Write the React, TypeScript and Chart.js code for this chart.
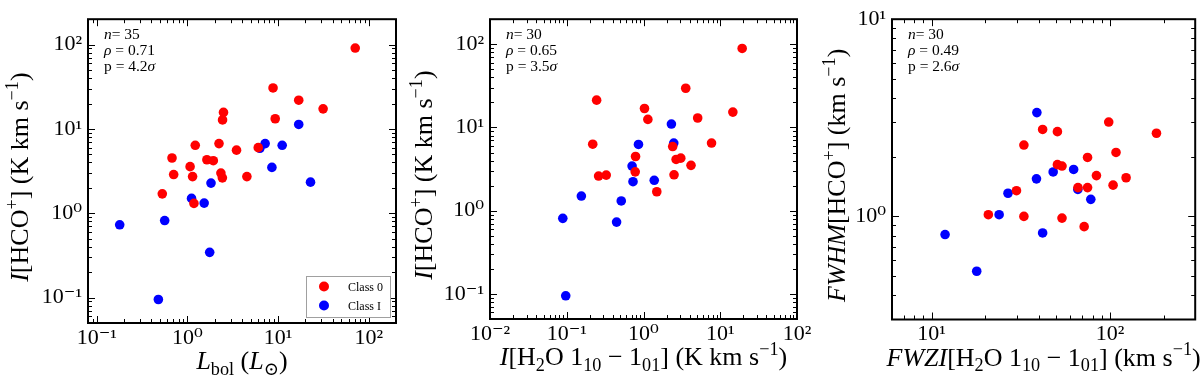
import React, { useEffect, useRef } from 'react';
import { Chart, registerables } from 'chart.js';

Chart.register(...registerables);

const SERIF = '"Liberation Serif", "DejaVu Serif", "Times New Roman", serif';
const RED = '#ff0000';
const BLUE = '#0000ff';

// ---------------- data ----------------
// Panel 1: L_bol vs I[HCO+]
const lbolClass0 = [71, 8.8, 16.9, 31.4, 9.3, 2.5, 2.44, 1.22, 2.23, 3.48, 6.04, 0.676, 1.64, 1.93, 1.07, 0.705, 1.14, 2.34, 2.43, 4.53, 0.528, 1.18];
const hcoLbolClass0 = [91, 30.6, 21.9, 17.3, 13.2, 15.7, 12.8, 6.4, 6.7, 5.6, 6.0, 4.52, 4.31, 4.2, 3.57, 2.88, 2.72, 3.0, 2.63, 2.72, 1.7, 1.31];
const lbolClassI = [16.9, 7.2, 11.1, 6.3, 8.55, 22.8, 1.82, 1.11, 1.53, 0.561, 0.179, 1.76, 0.478];
const hcoLbolClassI = [11.3, 6.7, 6.4, 5.9, 3.5, 2.34, 2.28, 1.5, 1.32, 0.82, 0.73, 0.344, 0.095];

// Panel 2: I[H2O] vs I[HCO+]
const iwaterClass0 = [19.3, 3.55, 0.245, 1.03, 14.6, 1.14, 5.08, 0.218, 7.7, 2.4, 0.788, 2.66, 3.06, 4.16, 0.78, 0.26, 0.327, 2.5, 1.49];
const hcoWaterClass0 = [89, 29.6, 21.3, 16.9, 15.3, 12.5, 13.0, 6.3, 6.5, 5.9, 4.48, 4.13, 4.28, 3.51, 2.93, 2.61, 2.68, 2.7, 1.69];
const iwaterClassI = [2.31, 2.48, 0.86, 0.71, 0.73, 1.38, 0.155, 0.513, 0.0888, 0.446, 0.097];
const hcoWaterClassI = [11.0, 6.5, 6.25, 3.44, 2.23, 2.32, 1.5, 1.31, 0.81, 0.73, 0.095];

// Panel 3: FWZI[H2O] vs FWHM[HCO+]
const fwziClass0 = [98.3, 182, 41.9, 50.7, 32.9, 108, 74.8, 50.7, 53.8, 83.9, 123, 66.1, 74.8, 104, 29.9, 20.8, 32.9, 53.8, 71.6];
const fwhmClass0 = [3.01, 2.64, 2.76, 2.69, 2.3, 2.11, 1.99, 1.83, 1.8, 1.61, 1.57, 1.4, 1.4, 1.44, 1.35, 1.02, 1.0, 0.98, 0.887];
const fwziClassI = [38.9, 62.5, 48.0, 38.7, 66, 26.8, 78, 23.9, 41.9, 11.9, 17.9];
const fwhmClassI = [3.36, 1.73, 1.68, 1.55, 1.37, 1.31, 1.22, 1.02, 0.824, 0.809, 0.527];

const seriesLabels = ['Class 0', 'Class I'];
const statsP1 = ['35', '0.71', '4.2'];
const statsP2 = ['30', '0.65', '3.5'];
const statsP3 = ['30', '0.49', '2.6'];

// ---------------- helpers ----------------
type Seg = { t: string; i?: boolean; s?: 'sub' | 'sup' };

interface Panel {
  x0: number[]; y0: number[]; x1: number[]; y1: number[];
  xMin: number; xMax: number; yMin: number; yMax: number;
  area: { left: number; right: number; top: number; bottom: number };
  xTitle: Seg[]; yTitle: Seg[]; yTitleOffset: number;
  stats: string[];
  legend: boolean;
}

const SUP: Record<string, string> = { '-': '⁻', '0': '⁰', '1': '¹', '2': '²', '3': '³', '4': '⁴', '5': '⁵', '6': '⁶', '7': '⁷', '8': '⁸', '9': '⁹' };

function isDecade(v: number) {
  const l = Math.log10(v);
  return Math.abs(l - Math.round(l)) < 1e-6;
}
function decadeLabel(v: number) {
  const e = String(Math.round(Math.log10(v)));
  return '10' + e.split('').map((c) => SUP[c]).join('');
}
function logTicks(min: number, max: number) {
  const out: number[] = [];
  for (let e = Math.floor(Math.log10(min)) - 1; e <= Math.ceil(Math.log10(max)); e++) {
    for (let k = 1; k <= 9; k++) {
      const v = k * Math.pow(10, e);
      if (v >= min * 0.9999 && v <= max * 1.0001) out.push(v);
    }
  }
  return out;
}

function drawRich(ctx: CanvasRenderingContext2D, segs: Seg[], x: number, y: number, size: number, align: 'center' | 'left') {
  const parts = segs.map((sg) => {
    const fs = sg.s ? size * 0.7 : size;
    const font = `${sg.i ? 'italic ' : ''}${fs}px ${SERIF}`;
    ctx.font = font;
    return { sg, font, w: ctx.measureText(sg.t).width };
  });
  const total = parts.reduce((s, p) => s + p.w, 0);
  let cx = align === 'center' ? x - total / 2 : x;
  ctx.textAlign = 'left';
  ctx.textBaseline = 'alphabetic';
  for (const p of parts) {
    ctx.font = p.font;
    const dy = p.sg.s === 'sup' ? -size * 0.4 : p.sg.s === 'sub' ? size * 0.22 : 0;
    ctx.fillText(p.sg.t, cx, y + dy);
    cx += p.w;
  }
}

const TITLE_SIZE = 26;
const STATS_SIZE = 15.5;

function decoPlugin(panel: Panel) {
  return {
    id: 'deco',
    afterDraw(chart: any) {
      const { ctx, chartArea: a, scales } = chart;
      const xs = scales.x;
      const ys = scales.y;
      ctx.save();
      ctx.strokeStyle = '#000';
      ctx.lineWidth = 1;
      ctx.beginPath();
      for (const t of xs.ticks) {
        const px = Math.round(xs.getPixelForValue(t.value)) + 0.5;
        const L = isDecade(t.value) ? 7 : 4;
        ctx.moveTo(px, a.bottom);
        ctx.lineTo(px, a.bottom - L);
        ctx.moveTo(px, a.top);
        ctx.lineTo(px, a.top + L);
      }
      for (const t of ys.ticks) {
        const py = Math.round(ys.getPixelForValue(t.value)) + 0.5;
        const L = isDecade(t.value) ? 7 : 4;
        ctx.moveTo(a.left, py);
        ctx.lineTo(a.left + L, py);
        ctx.moveTo(a.right, py);
        ctx.lineTo(a.right - L, py);
      }
      ctx.stroke();
      ctx.lineWidth = 2;
      ctx.strokeRect(a.left, a.top, a.right - a.left, a.bottom - a.top);

      ctx.fillStyle = '#000';
      // axis titles
      drawRich(ctx, panel.xTitle, (a.left + a.right) / 2, a.bottom + 46, TITLE_SIZE, 'center');
      ctx.save();
      ctx.translate(a.left + panel.yTitleOffset, (a.top + a.bottom) / 2 + 6);
      ctx.rotate(-Math.PI / 2);
      drawRich(ctx, panel.yTitle, 0, 0, TITLE_SIZE, 'center');
      ctx.restore();

      // statistics
      const [n, rho, p] = panel.stats;
      const sx = a.left + 16;
      drawRich(ctx, [{ t: 'n', i: true }, { t: '= ' + n }], sx, a.top + 19.5, STATS_SIZE, 'left');
      drawRich(ctx, [{ t: 'ρ', i: true }, { t: ' = ' + rho }], sx, a.top + 35.5, STATS_SIZE, 'left');
      drawRich(ctx, [{ t: 'p = ' + p }, { t: 'σ', i: true }], sx, a.top + 51.5, STATS_SIZE, 'left');

      // legend
      if (panel.legend) {
        const bw = 84, bh = 41;
        const bx = a.right - 6 - bw;
        const by = a.bottom - 6 - bh;
        ctx.fillStyle = '#fff';
        ctx.fillRect(bx, by, bw, bh);
        ctx.strokeStyle = '#a0a0a0';
        ctx.lineWidth = 1;
        ctx.strokeRect(bx + 0.5, by + 0.5, bw, bh);
        const cols = [RED, BLUE];
        for (let k = 0; k < 2; k++) {
          const cy = by + 10.5 + k * 19;
          ctx.fillStyle = cols[k];
          ctx.beginPath();
          ctx.arc(bx + 18, cy, 5, 0, Math.PI * 2);
          ctx.fill();
          ctx.fillStyle = '#000';
          ctx.font = `12px ${SERIF}`;
          ctx.textAlign = 'left';
          ctx.textBaseline = 'alphabetic';
          ctx.fillText(seriesLabels[k], bx + 42, cy + 4);
        }
      }
      ctx.restore();
    },
  };
}

const W = 1200;
const H = 378;
const XAXIS_H = 40;
const YAXIS_W = 70;

function PanelChart({ panel }: { panel: Panel }) {
  const ref = useRef<HTMLCanvasElement>(null);
  useEffect(() => {
    const canvas = ref.current;
    if (!canvas) return;
    const a = panel.area;
    const tickFont = { family: SERIF, size: 22 };
    const mkPts = (xs: number[], ys: number[]) => xs.map((x, i) => ({ x, y: ys[i] }));
    const chart = new Chart(canvas, {
      type: 'scatter',
      data: {
        datasets: [
          { label: seriesLabels[0], data: mkPts(panel.x0, panel.y0), pointBackgroundColor: RED, pointBorderColor: RED, pointBorderWidth: 0, pointRadius: 4.8, pointHoverRadius: 4.8 },
          { label: seriesLabels[1], data: mkPts(panel.x1, panel.y1), pointBackgroundColor: BLUE, pointBorderColor: BLUE, pointBorderWidth: 0, pointRadius: 4.8, pointHoverRadius: 4.8 },
        ],
      },
      options: {
        responsive: false,
        animation: false,
        devicePixelRatio: 1,
        events: [],
        layout: { padding: { left: a.left - YAXIS_W, right: W - a.right, top: a.top, bottom: H - a.bottom - XAXIS_H } },
        plugins: { legend: { display: false }, tooltip: { enabled: false } },
        scales: {
          x: {
            type: 'logarithmic',
            position: 'bottom',
            min: panel.xMin,
            max: panel.xMax,
            grid: { display: false, drawTicks: false },
            border: { display: false },
            ticks: { font: tickFont, color: '#000', padding: 2, autoSkip: false, maxRotation: 0, minRotation: 0, callback: (v: any) => (isDecade(Number(v)) ? decadeLabel(Number(v)) : '') },
            afterBuildTicks: (s: any) => { s.ticks = logTicks(panel.xMin, panel.xMax).map((v) => ({ value: v })); },
            afterFit: (s: any) => { s.height = XAXIS_H; },
          },
          y: {
            type: 'logarithmic',
            position: 'left',
            min: panel.yMin,
            max: panel.yMax,
            grid: { display: false, drawTicks: false },
            border: { display: false },
            ticks: { font: tickFont, color: '#000', padding: 6, autoSkip: false, callback: (v: any) => (isDecade(Number(v)) ? decadeLabel(Number(v)) : '') },
            afterBuildTicks: (s: any) => { s.ticks = logTicks(panel.yMin, panel.yMax).map((v) => ({ value: v })); },
            afterFit: (s: any) => { s.width = YAXIS_W; },
          },
        },
      } as any,
      plugins: [decoPlugin(panel)],
    });
    return () => chart.destroy();
  }, [panel]);
  return <canvas ref={ref} width={W} height={H} style={{ position: 'absolute', left: 0, top: 0, width: W, height: H }} />;
}

const hcoTitle: Seg[] = [{ t: 'I', i: true }, { t: '[HCO' }, { t: '+', s: 'sup' }, { t: '] (K km s' }, { t: '−1', s: 'sup' }, { t: ')' }];

const panels: Panel[] = [
  {
    x0: lbolClass0, y0: hcoLbolClass0, x1: lbolClassI, y1: hcoLbolClassI,
    xMin: 0.08, xMax: 200, yMin: 0.05, yMax: 200,
    area: { left: 88, right: 396, top: 19, bottom: 323 },
    xTitle: [{ t: 'L', i: true }, { t: 'bol', s: 'sub' }, { t: ' (' }, { t: 'L', i: true }, { t: '⊙', s: 'sub' }, { t: ')' }],
    yTitle: hcoTitle, yTitleOffset: -60,
    stats: statsP1, legend: true,
  },
  {
    x0: iwaterClass0, y0: hcoWaterClass0, x1: iwaterClassI, y1: hcoWaterClassI,
    xMin: 0.01, xMax: 100, yMin: 0.05, yMax: 200,
    area: { left: 490, right: 797, top: 14, bottom: 319 },
    xTitle: [{ t: 'I', i: true }, { t: '[H' }, { t: '2', s: 'sub' }, { t: 'O 1' }, { t: '10', s: 'sub' }, { t: ' − 1' }, { t: '01', s: 'sub' }, { t: '] (K km s' }, { t: '−1', s: 'sup' }, { t: ')' }],
    yTitle: hcoTitle, yTitleOffset: -58,
    stats: statsP2, legend: false,
  },
  {
    x0: fwziClass0, y0: fwhmClass0, x1: fwziClassI, y1: fwhmClassI,
    xMin: 6, xMax: 300, yMin: 0.3, yMax: 10,
    area: { left: 892, right: 1198, top: 17, bottom: 319.5 },
    xTitle: [{ t: 'FWZI', i: true }, { t: '[H' }, { t: '2', s: 'sub' }, { t: 'O 1' }, { t: '10', s: 'sub' }, { t: ' − 1' }, { t: '01', s: 'sub' }, { t: '] (km s' }, { t: '−1', s: 'sup' }, { t: ')' }],
    yTitle: [{ t: 'FWHM', i: true }, { t: '[HCO' }, { t: '+', s: 'sup' }, { t: '] (km s' }, { t: '−1', s: 'sup' }, { t: ')' }],
    yTitleOffset: -47,
    stats: statsP3, legend: false,
  },
];

export default function App() {
  return (
    <div style={{ position: 'fixed', left: 0, top: 0, width: W, height: H, background: '#fff', overflow: 'hidden' }}>
      {panels.map((p, i) => (
        <PanelChart key={i} panel={p} />
      ))}
    </div>
  );
}
